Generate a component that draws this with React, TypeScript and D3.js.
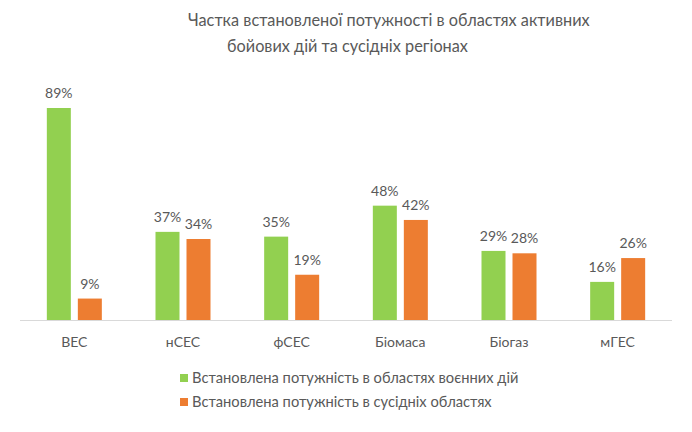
import * as d3 from "d3";
import { useEffect, useRef } from "react";

const categories = ["ВЕС", "нСЕС", "фСЕС", "Біомаса", "Біогаз", "мГЕС"];
const warZone = [89, 37, 35, 48, 29, 16];
const neighbours = [9, 34, 19, 42, 28, 26];
const seriesNames = [
  "Встановлена потужність в областях воєнних дій",
  "Встановлена потужність в сусідніх областях",
];
const titleLines = [
  "Частка встановленої потужності в областях активних",
  "бойових дій та сусідніх регіонах",
];

const width = 692;
const height = 432;
const font = "Lato, 'Open Sans', sans-serif";
const textColor = "#595959";
const colors = ["#92d050", "#ed7d31"];

export default function App() {
  const ref = useRef<SVGSVGElement | null>(null);

  useEffect(() => {
    const svg = d3.select(ref.current);
    svg.selectAll("*").remove();

    svg.append("rect").attr("width", width).attr("height", height).attr("fill", "#fff");

    // title
    const titleX = [188, 227];
    titleLines.forEach((t, i) => {
      svg
        .append("text")
        .attr("x", titleX[i])
        .attr("y", 26 + i * 26)
        .attr("font-family", font)
        .attr("font-size", 16.3)
        .attr("fill", textColor)
        .text(t);
    });

    const baseline = 320;
    const x = d3.scaleBand<string>().domain(categories).range([20, 672]);
    const y = d3.scaleLinear().domain([0, 89]).range([baseline, 108]);
    const barW = 24;
    const gap = 7;

    const data = categories.map((c, i) => ({ c, vals: [warZone[i], neighbours[i]] }));

    const groups = svg
      .append("g")
      .selectAll("g")
      .data(data)
      .enter()
      .append("g")
      .attr("transform", (d) => `translate(${x(d.c)! + x.bandwidth() / 2}, 0)`);

    groups.each(function (d) {
      const g = d3.select(this);
      d.vals.forEach((v, j) => {
        const bx = j === 0 ? -gap / 2 - barW : gap / 2;
        g.append("rect")
          .attr("x", bx)
          .attr("y", y(v))
          .attr("width", barW)
          .attr("height", baseline - y(v))
          .attr("fill", colors[j]);
        g.append("text")
          .attr("x", bx + barW / 2)
          .attr("y", y(v) - 10)
          .attr("text-anchor", "middle")
          .attr("font-family", font)
          .attr("font-size", 14)
          .attr("fill", textColor)
          .text(`${v}%`);
      });
    });

    // axis line
    svg
      .append("line")
      .attr("x1", 20)
      .attr("x2", 672)
      .attr("y1", baseline + 0.5)
      .attr("y2", baseline + 0.5)
      .attr("stroke", "#d9d9d9")
      .attr("stroke-width", 1);

    svg
      .append("g")
      .selectAll("text")
      .data(categories)
      .enter()
      .append("text")
      .attr("x", (d) => x(d)! + x.bandwidth() / 2)
      .attr("y", 347)
      .attr("text-anchor", "middle")
      .attr("font-family", font)
      .attr("font-size", 14)
      .attr("fill", textColor)
      .text((d) => d);

    // legend
    seriesNames.forEach((s, i) => {
      const ly = 378 + i * 24;
      svg
        .append("rect")
        .attr("x", 180)
        .attr("y", ly - 4)
        .attr("width", 8)
        .attr("height", 8)
        .attr("fill", colors[i]);
      svg
        .append("text")
        .attr("x", 192)
        .attr("y", ly + 5)
        .attr("font-family", font)
        .attr("font-size", 14.7)
        .attr("fill", textColor)
        .text(s);
    });
  }, []);

  return (
    <svg
      ref={ref}
      width={width}
      height={height}
      style={{ position: "absolute", left: 0, top: 0 }}
    ></svg>
  );
}
